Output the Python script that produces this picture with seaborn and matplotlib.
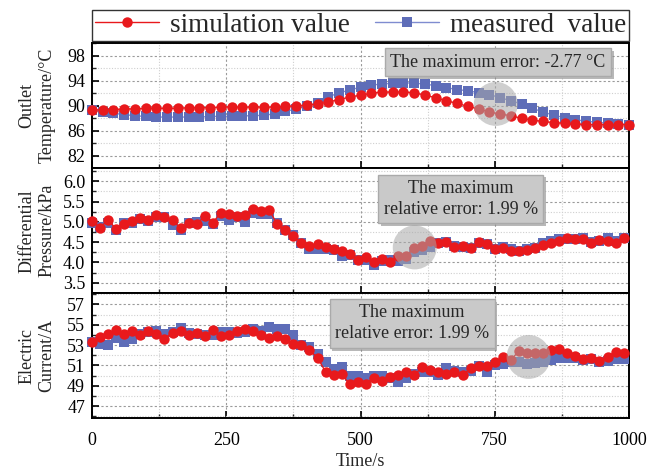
import numpy as np
import pandas as pd
import seaborn as sns
import matplotlib.pyplot as plt
from matplotlib.ticker import MultipleLocator, FixedLocator
import matplotlib.patheffects as pe

# ---------------- data ----------------
t1 = list(range(0, 1001, 20))
temp_sim = [89.3, 89.4, 89.4, 89.5, 89.5, 89.6, 89.6, 89.6, 89.6, 89.7,
            89.7, 89.7, 89.8, 89.8, 89.8, 89.8, 89.8, 89.8, 89.9, 90.0,
            90.1, 90.3, 90.6, 91.0, 91.4, 91.7, 92.0, 92.2, 92.2, 92.2,
            92.1, 91.7, 91.3, 90.8, 90.4, 89.9, 89.5, 89.0, 88.7, 88.4,
            88.0, 87.7, 87.5, 87.3, 87.2, 87.1, 87.0, 87.0, 87.0, 87.0, 87.0]
temp_meas = [89.3, 89.0, 88.8, 88.6, 88.4, 88.3, 88.2, 88.2, 88.2, 88.2,
             88.2, 88.3, 88.3, 88.3, 88.4, 88.4, 88.5, 88.7, 89.1, 89.5,
             90.0, 90.5, 91.4, 92.1, 92.5, 93.0, 93.3, 93.5, 93.6, 93.7,
             93.6, 93.5, 93.2, 92.9, 92.6, 92.4, 92.1, 91.8, 91.3, 90.8,
             90.3, 89.6, 89.0, 88.5, 88.1, 87.8, 87.5, 87.4, 87.2, 87.1, 87.0]

t2 = list(range(0, 1000, 15))
dp_sim = [5.02, 4.86, 5.05, 4.82, 4.94, 5.02, 5.09, 5.05, 5.17, 5.12,
          5.04, 4.84, 4.96, 4.94, 5.15, 4.98, 5.23, 5.19, 5.15, 5.17,
          5.31, 5.27, 5.29, 4.94, 4.80, 4.66, 4.49, 4.41, 4.45, 4.39,
          4.34, 4.27, 4.22, 4.06, 4.14, 4.00,
          4.08, 4.02, 4.16, 4.16, 4.35, 4.41, 4.53, 4.47, 4.51, 4.39,
          4.41, 4.35, 4.51, 4.45, 4.34, 4.35, 4.29, 4.27, 4.30, 4.35,
          4.43, 4.49, 4.53, 4.61, 4.57, 4.57, 4.47, 4.55, 4.53, 4.49, 4.61]
dp_meas = [4.96, 4.88, 4.98, 4.80, 4.98, 4.98, 5.07, 5.02, 5.11, 5.11,
           4.92, 4.80, 4.98, 5.00, 5.02, 4.94, 5.15, 5.04, 5.11, 5.00,
           5.23, 5.19, 5.19, 4.96, 4.80, 4.67, 4.49, 4.33, 4.34, 4.33,
           4.30, 4.16, 4.18, 4.06, 4.06, 3.94,
           4.04, 4.06, 4.04, 4.08, 4.25, 4.30, 4.39, 4.47, 4.51, 4.41,
           4.39, 4.35, 4.49, 4.45, 4.33, 4.39, 4.33, 4.29, 4.33, 4.35,
           4.47, 4.53, 4.57, 4.57, 4.57, 4.60, 4.51, 4.53, 4.60, 4.53, 4.60]

cur_sim = [53.26, 53.8, 54.06, 54.5, 54.13, 54.38, 53.97, 54.35, 54.13, 53.64,
           54.22, 54.35, 53.97, 54.22, 53.87, 54.45, 53.9, 53.97, 54.35, 54.55,
           54.35, 54.03, 53.7, 53.9, 53.64, 53.07, 53.0, 52.48, 51.77, 50.36,
           50.03, 50.16, 49.13, 49.39, 49.2, 49.78,
           49.46, 49.84, 50.03, 50.36, 50.1, 50.8, 50.58, 50.36, 50.17, 50.36,
           50.03, 50.75, 50.9, 50.97, 51.33, 51.87, 51.55, 52.42, 52.2, 52.2,
           52.2, 52.52, 52.6, 52.2, 51.97, 51.65, 51.77, 51.45, 51.87, 52.35, 52.2]
cur_meas = [53.26, 53.16, 53.0, 53.75, 53.26, 53.65, 54.05, 54.31, 54.37, 54.05,
            54.31, 54.7, 54.15, 54.05, 53.98, 53.98, 54.31, 54.31, 54.15, 54.31,
            54.63, 54.37, 54.8, 54.63, 54.57, 53.98, 53.0, 52.84, 52.09, 51.3,
            50.65, 50.88, 49.99, 49.99, 49.8, 49.99,
            49.99, 49.73, 49.4, 49.73, 50.13, 50.32, 50.32, 50.06, 50.71, 50.45,
            50.38, 50.45, 50.97, 50.32, 51.04, 51.1, 51.37, 51.37, 51.1, 51.2,
            51.3, 51.53, 51.76, 51.7, 51.76, 51.53, 51.63, 51.37, 51.43, 51.63, 51.63]

temp_ticks = [82, 86, 90, 94, 98]
dp_ticks = [3.5, 4.0, 4.5, 5.0, 5.5, 6.0]
cur_ticks = [47, 49, 51, 53, 55, 57]
x_ticks = [0, 250, 500, 750, 1000]

ylabels = ["Outlet\nTemperature/°C", "Differential\nPressure/kPa", "Electric\nCurrent/A"]
notes = ["The maximum error: -2.77 °C",
         "The maximum\nrelative error: 1.99 %",
         "The maximum\nrelative error: 1.99 %"]
highlights = [(752, 90.3), (601, 4.37), (813, 51.84)]

RED = "#E8191C"
BLUE = "#5E6DB8"
BLUE_LINE = "#7F8CD0"

sns.set_theme(style="ticks")
plt.rcParams['font.family'] = ['Liberation Serif', 'DejaVu Serif']

fig, axes = plt.subplots(3, 1, figsize=(6.65, 4.74), dpi=100, sharex=True)
fig.subplots_adjust(left=92/665, right=629/665, top=1-43.3/474,
                    bottom=1-418.3/474, hspace=0)

panels = [
    (t1, temp_sim, temp_meas, (80, 100), temp_ticks, 2, "%d"),
    (t2, dp_sim, dp_meas, (3.24, 6.32), dp_ticks, 0.25, "%.1f"),
    (t2, cur_sim, cur_meas, (45.8, 58.1), cur_ticks, 1, "%d"),
]
note_pos = [(0.756, 0.849), (0.687, 0.755), (0.596, 0.759)]

for i, (ax, (t, sim, meas, ylim, yt, mnr, fmt)) in enumerate(zip(axes, panels)):
    df = pd.DataFrame({"t": t, "sim": sim, "meas": meas})
    sns.lineplot(data=df, x="t", y="meas", ax=ax, color=BLUE_LINE, lw=1,
                 marker="s", markersize=6.5, markerfacecolor=BLUE,
                 markeredgecolor=BLUE, markeredgewidth=0,
                 label="measured  value", clip_on=False, zorder=3)
    sns.lineplot(data=df, x="t", y="sim", ax=ax, color=RED, lw=1,
                 marker="o", markersize=7.5, markerfacecolor=RED,
                 markeredgecolor=RED, markeredgewidth=0,
                 label="simulation value", clip_on=False, zorder=4)
    if ax.get_legend() is not None:
        ax.get_legend().remove()
    ax.set_xlim(0, 1000)
    ax.set_ylim(*ylim)
    ax.yaxis.set_major_locator(FixedLocator(yt))
    ax.yaxis.set_minor_locator(MultipleLocator(mnr))
    ax.yaxis.set_major_formatter(plt.FormatStrFormatter(fmt))
    ax.xaxis.set_major_locator(FixedLocator(x_ticks))
    ax.xaxis.set_minor_locator(MultipleLocator(125))
    ax.set_axisbelow(True)
    ax.grid(which="major", color="#9a9a9a", ls=(0, (2, 2)), lw=0.8)
    ax.grid(which="minor", color="#cfcfcf", ls=(0, (1, 1.5)), lw=0.8)
    ax.tick_params(which="major", direction="in", length=5, width=1.2,
                   labelsize=13, colors="black", pad=5)
    ax.tick_params(which="minor", direction="in", length=3, width=1.0)
    for sp in ax.spines.values():
        sp.set_visible(True)
        sp.set_linewidth(1.4)
        sp.set_color("black")
    ax.set_ylabel(ylabels[i], fontsize=13, linespacing=1.25)
    ax.yaxis.set_label_coords(-0.068, 0.5)
    ax.set_xlabel("")
    # highlight circle
    hx, hy = highlights[i]
    ax.scatter([hx], [hy], s=1000, color="#a8a8a8", alpha=0.55,
               edgecolors="none", zorder=5)
    # note box
    nx, ny = note_pos[i]
    txt = ax.text(nx, ny, notes[i], transform=ax.transAxes, ha="center",
                  va="center", fontsize=13, zorder=6, linespacing=1.3,
                  bbox=dict(boxstyle="square,pad=0.3", fc="#c9c9c9",
                            ec="#aaaaaa", lw=1))
    txt.get_bbox_patch().set_path_effects(
        [pe.SimplePatchShadow(offset=(2, -2), shadow_rgbFace="#8a8a8a", alpha=0.6),
         pe.Normal()])

axes[2].set_xlabel("Time/s", fontsize=13, labelpad=3)
axes[2].tick_params(axis="x", pad=10)

handles, labels = axes[0].get_legend_handles_labels()
order = [labels.index("simulation value"), labels.index("measured  value")]
leg = fig.legend([handles[k] for k in order], [labels[k] for k in order],
                 loc="lower left",
                 bbox_to_anchor=(92/665, 1-41/474, 537/665, 37/474),
                 mode="expand", ncol=2, fontsize=19.5, frameon=True,
                 fancybox=False, edgecolor="black", handlelength=2.35,
                 columnspacing=0.9, borderpad=0.12, borderaxespad=0,
                 handletextpad=0.4)
leg.get_frame().set_linewidth(1.0)

fig.savefig("out.png", dpi=100)
